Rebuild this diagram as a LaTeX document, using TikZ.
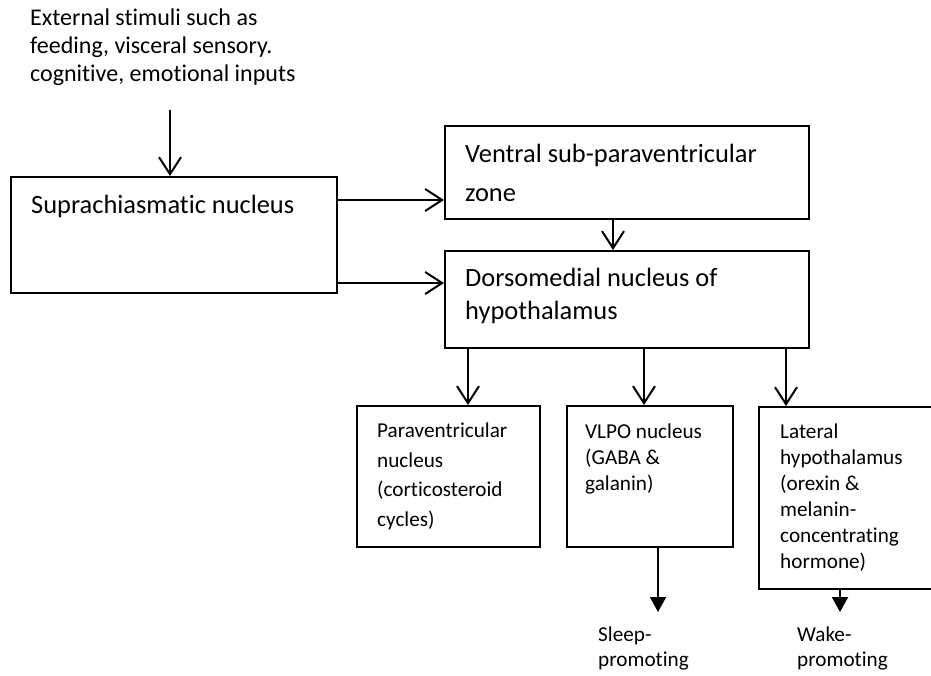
\documentclass[tikz,border=0pt]{standalone}
\usepackage{fontspec}
\setmainfont[Ligatures=NoCommon]{Carlito}
\usetikzlibrary{arrows.meta,positioning}
\tikzset{
  box/.style={draw, line width=2pt, inner sep=0pt, anchor=north west},
  txt/.style={inner sep=0pt, anchor=north west, align=left},
  arr/.style={-{Straight Barb[length=17pt, width=22pt]}, line width=2pt},
  farr/.style={-{Triangle[length=15pt, width=16pt]}, line width=2pt},
}
\begin{document}
\begin{tikzpicture}[x=1pt, y=-1pt]
\useasboundingbox (0,0) rectangle (931,675);
% inputs
\node[txt, font=\fontsize{24}{28}\selectfont] (ext) at (30,9) {External stimuli such as\\feeding, visceral sensory.\\cognitive, emotional inputs};
\coordinate (extin) at (170,110);
% boxes
\node[box, minimum width=326pt, minimum height=116pt] (scn) at (10,176) {};
\node[box, minimum width=364pt, minimum height=93pt] (vspz) at (444,125) {};
\node[box, minimum width=364pt, minimum height=97pt] (dmh) at (444,250) {};
\node[box, minimum width=183pt, minimum height=141pt] (pvn) at (356,405) {};
\node[box, minimum width=166pt, minimum height=141pt] (vlpo) at (566,405) {};
\node[box, minimum width=200pt, minimum height=182pt] (lh) at (758,406) {};
% texts
\node[txt, font=\fontsize{26.4}{32}\selectfont] (scnT) at (31,195) {Suprachiasmatic nucleus};
\node[txt, font=\fontsize{26.4}{39}\selectfont] (vspzT) at (465,144) {Ventral sub-paraventricular\\zone};
\node[txt, font=\fontsize{26.4}{33}\selectfont] (dmhT) at (465,268) {Dorsomedial nucleus of\\hypothalamus};
\node[txt, font=\fontsize{21.2}{29.5}\selectfont] (pvnT) at (377,423) {Paraventricular\\nucleus\\(corticosteroid\\cycles)};
\node[txt, font=\fontsize{21.2}{26}\selectfont] (vlpoT) at (585,424) {VLPO nucleus\\(GABA \&\\galanin)};
\node[txt, font=\fontsize{21.2}{26}\selectfont] (lhT) at (780,424) {Lateral\\hypothalamus\\(orexin \&\\melanin-\\concentrating\\hormone)};
\node[txt, font=\fontsize{21.2}{25}\selectfont] (sleep) at (598,627) {Sleep-\\promoting};
\node[txt, font=\fontsize{21.2}{25}\selectfont] (wake) at (797,627) {Wake-\\promoting};
% connectors
\draw[arr] (extin) -- (extin |- scn.north);
\coordinate (s1) at ([yshift=35pt]scn.east);
\coordinate (s2) at ([yshift=-48pt]scn.east);
\draw[arr] (s1) -- (s1 -| vspz.west);
\draw[arr] (s2) -- (s2 -| dmh.west);
\coordinate (v1) at ([xshift=-14pt]vspz.south);
\draw[arr] (v1) -- (v1 |- dmh.north);
\foreach \t/\x in {pvn/468, vlpo/644, lh/786}
  \draw[arr] (dmh.south -| \x,0) -- (\t.north -| \x,0);
\draw[farr] (vlpo.south -| 658,0) -- ++(0,64);
\draw[farr] (lh.south -| 840,0) -- ++(0,22);
\end{tikzpicture}
\end{document}
